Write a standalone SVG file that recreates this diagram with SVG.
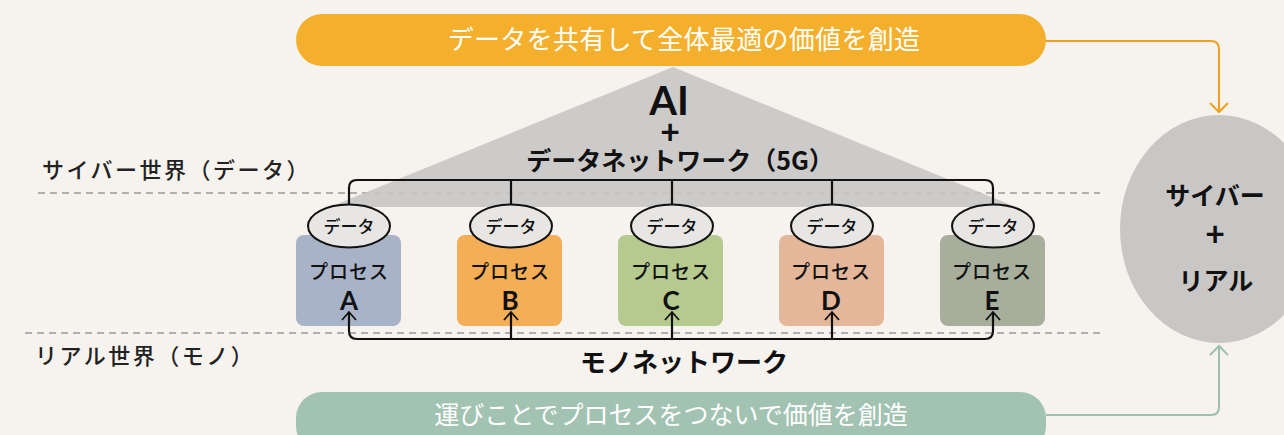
<svg xmlns="http://www.w3.org/2000/svg" width="1284" height="435" viewBox="0 0 1284 435">
<defs>
<style>
.jp{font-family:"Noto Sans CJK JP","Noto Sans",sans-serif;}
.la{font-family:Lato,"Liberation Sans",sans-serif;}
.lbl{font-size:22px;fill:#222;font-weight:500;letter-spacing:2.5px;}
.b{font-weight:700;fill:#111;}
.pill{fill:#fff;}
.dash{stroke:#9a9a9a;stroke-width:1.5;stroke-dasharray:7 5;fill:none;}
.net{stroke:#111;stroke-width:2.2;fill:none;}
.arr{stroke:#111;stroke-width:1.8;fill:none;}
.data{fill:#e8e6e4;stroke:#111;stroke-width:2;}
.dt{font-size:17px;font-weight:500;fill:#111;}
.pt{font-size:19px;font-weight:500;fill:#111;letter-spacing:1px;}
.lt{font-size:26px;font-weight:700;fill:#111;}
</style>
</defs>
<rect width="1284" height="435" fill="#f6f3ef"/>

<g id="zones">
<line class="dash" x1="38" y1="193" x2="1100" y2="193"/>
<line class="dash" x1="25" y1="333" x2="1100" y2="333"/>
<text class="jp lbl" x="42" y="178">サイバー世界（データ）</text>
<text class="jp lbl" x="35" y="364">リアル世界（モノ）</text>
</g>

<g id="triangle">
<polygon points="673,67 330,207 1016,207" fill="#c9c7c5" opacity="0.9"/>
<text class="la b" x="669" y="115" text-anchor="middle" font-size="40" font-weight="900">AI</text>
<text class="la" x="670" y="144" text-anchor="middle" font-size="34" font-weight="700" fill="#111">+</text>
<text class="jp b" x="680" y="170" text-anchor="middle" font-size="25" font-weight="900">データネットワーク（5G）</text>
</g>

<g id="top-pill">
<rect x="296" y="14" width="750" height="52" rx="26" fill="#f4b02c"/>
<text class="jp pill" x="684" y="49" text-anchor="middle" font-size="26" letter-spacing="0.3">データを共有して全体最適の価値を創造</text>
</g>

<g id="bottom-pill">
<rect x="296" y="392" width="750" height="60" rx="26" fill="#a2c3b2"/>
<text class="jp pill" x="671" y="424" text-anchor="middle" font-size="25">運びことでプロセスをつないで価値を創造</text>
</g>

<g id="result">
<ellipse cx="1219" cy="229" rx="99" ry="114" fill="#c9c7c5"/>
<text class="jp b" x="1215" y="205" text-anchor="middle" font-size="25" font-weight="900">サイバー</text>
<text class="la" x="1215" y="246" text-anchor="middle" font-size="34" font-weight="700" fill="#111">+</text>
<text class="jp b" x="1216" y="290" text-anchor="middle" font-size="25" font-weight="900">リアル</text>
</g>

<g id="process-a">
<rect x="296" y="235" width="105" height="91" rx="8" fill="#a9b3c8"/>
<ellipse class="data" cx="349" cy="226" rx="41" ry="21.5"/>
<text class="jp dt" x="349" y="233" text-anchor="middle">データ</text>
<text class="jp pt" x="349" y="279" text-anchor="middle">プロセス</text>
<text class="la lt" x="349" y="310" text-anchor="middle">A</text>
</g>
<g id="process-b">
<rect x="457" y="235" width="105" height="91" rx="8" fill="#f4ae55"/>
<ellipse class="data" cx="511" cy="226" rx="41" ry="21.5"/>
<text class="jp dt" x="511" y="233" text-anchor="middle">データ</text>
<text class="jp pt" x="510" y="279" text-anchor="middle">プロセス</text>
<text class="la lt" x="510" y="310" text-anchor="middle">B</text>
</g>
<g id="process-c">
<rect x="618" y="235" width="105" height="91" rx="8" fill="#b6c98f"/>
<ellipse class="data" cx="672" cy="226" rx="41" ry="21.5"/>
<text class="jp dt" x="672" y="233" text-anchor="middle">データ</text>
<text class="jp pt" x="671" y="279" text-anchor="middle">プロセス</text>
<text class="la lt" x="671" y="310" text-anchor="middle">C</text>
</g>
<g id="process-d">
<rect x="779" y="235" width="105" height="91" rx="8" fill="#e5b79a"/>
<ellipse class="data" cx="832" cy="226" rx="41" ry="21.5"/>
<text class="jp dt" x="832" y="233" text-anchor="middle">データ</text>
<text class="jp pt" x="831" y="279" text-anchor="middle">プロセス</text>
<text class="la lt" x="831" y="310" text-anchor="middle">D</text>
</g>
<g id="process-e">
<rect x="940" y="235" width="105" height="91" rx="8" fill="#a8ae9c"/>
<ellipse class="data" cx="993" cy="226" rx="41" ry="21.5"/>
<text class="jp dt" x="993" y="233" text-anchor="middle">データ</text>
<text class="jp pt" x="992" y="279" text-anchor="middle">プロセス</text>
<text class="la lt" x="992" y="310" text-anchor="middle">E</text>
</g>

<g id="connectors">
<path class="net" d="M349,204 V188 Q349,180 357,180 H985 Q993,180 993,188 V204"/>
<line class="net" x1="511" y1="180" x2="511" y2="204"/>
<line class="net" x1="672" y1="180" x2="672" y2="204"/>
<line class="net" x1="832" y1="180" x2="832" y2="204"/>
<path class="net" d="M349,313 V331 Q349,339 357,339 H985 Q993,339 993,331 V313"/>
<line class="net" x1="511" y1="339" x2="511" y2="313"/>
<line class="net" x1="672" y1="339" x2="672" y2="313"/>
<line class="net" x1="832" y1="339" x2="832" y2="313"/>
<path class="arr" d="M342,320 L349,312 L356,320"/>
<path class="arr" d="M504,320 L511,312 L518,320"/>
<path class="arr" d="M665,320 L672,312 L679,320"/>
<path class="arr" d="M825,320 L832,312 L839,320"/>
<path class="arr" d="M986,320 L993,312 L1000,320"/>
<path d="M1046,41 H1211 Q1219,41 1219,49 V112" fill="none" stroke="#f0a020" stroke-width="2"/>
<path d="M1210,103 L1219,112 L1228,103" fill="none" stroke="#f0a020" stroke-width="2"/>
<path d="M1046,415 H1211 Q1219,415 1219,407 V346" fill="none" stroke="#9cc0ad" stroke-width="2"/>
<path d="M1210,355 L1219,346 L1228,355" fill="none" stroke="#9cc0ad" stroke-width="2"/>
</g>

<g id="mono-label">
<text class="jp b" x="684" y="372" text-anchor="middle" font-size="26" font-weight="900">モノネットワーク</text>
</g>
</svg>
